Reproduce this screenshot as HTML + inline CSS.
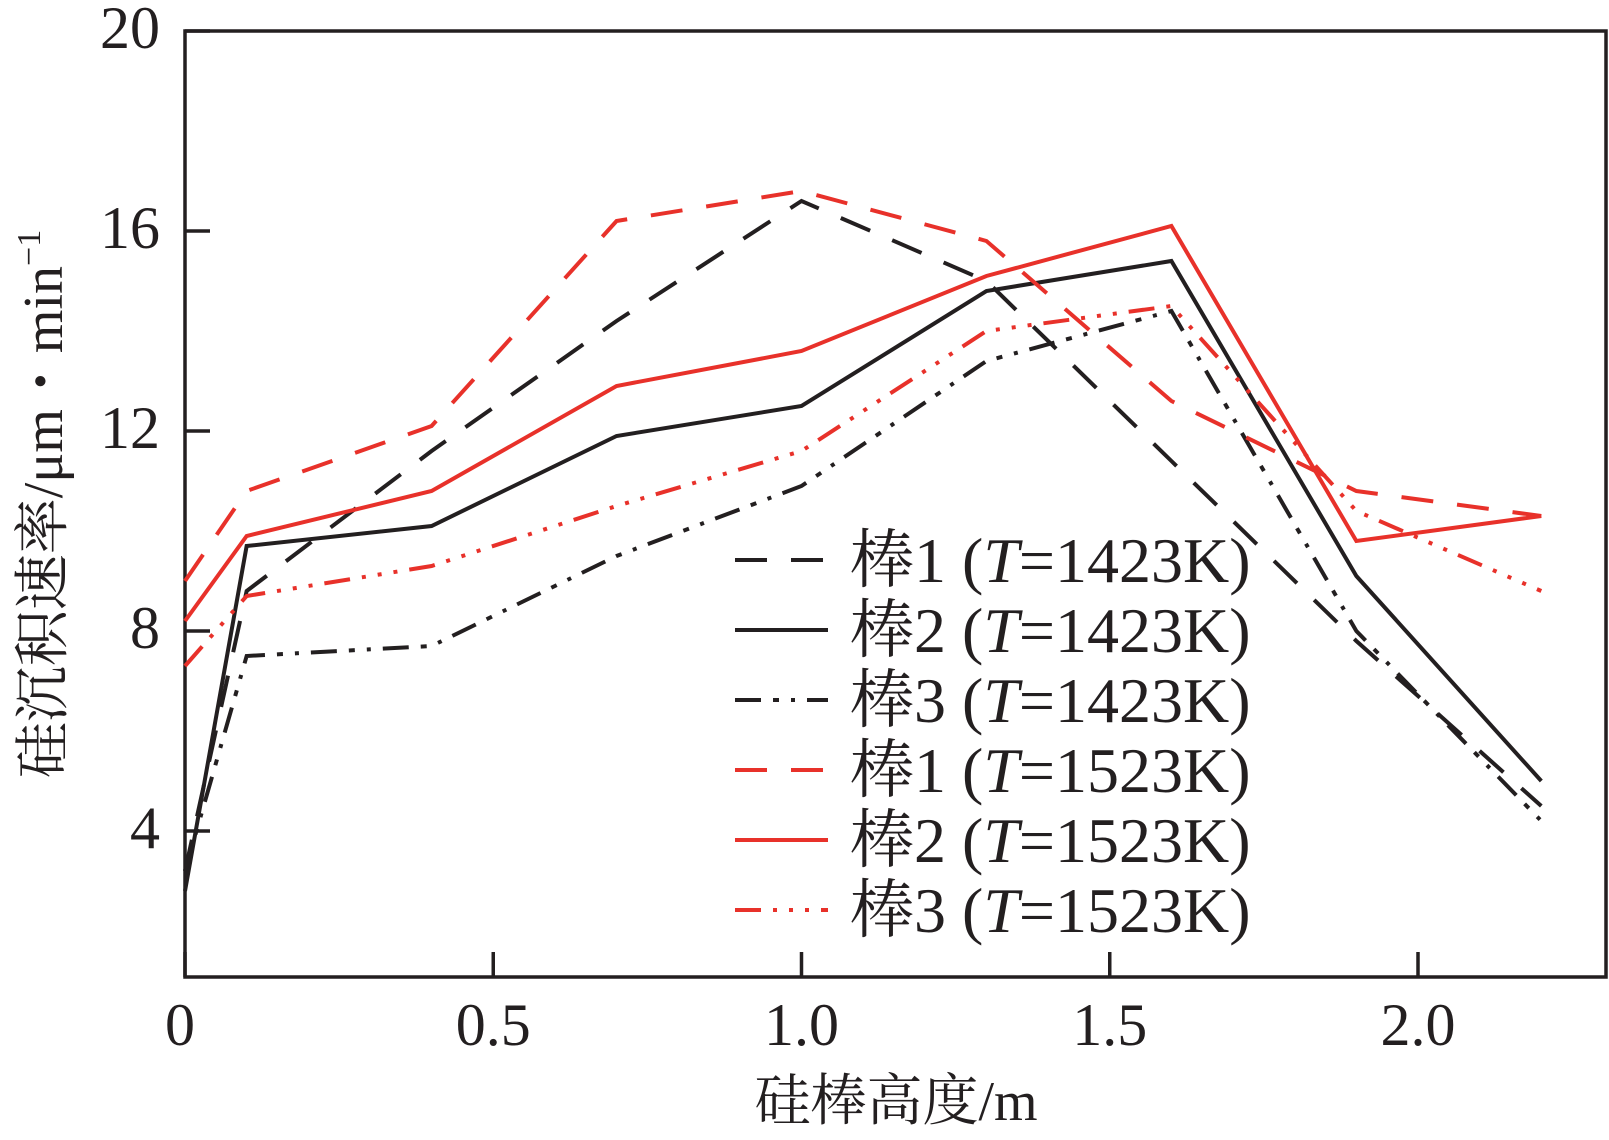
<!DOCTYPE html>
<html><head><meta charset="utf-8"><style>
body{margin:0;background:#fff}
svg text{font-family:"Liberation Serif","Noto Serif CJK SC",serif;fill:#231f20}
</style></head><body>
<svg id="chart" width="1609" height="1135" xmlns="http://www.w3.org/2000/svg"></svg>
<script>
const xValues=[0,0.1,0.4,0.7,1.0,1.3,1.6,1.9,2.2];
const rod1_1423=[3.2,8.8,11.6,14.2,16.6,15.0,11.4,7.8,4.5];
const rod2_1423=[2.8,9.7,10.1,11.9,12.5,14.8,15.4,9.1,5.0];
const rod3_1423=[3.2,7.5,7.7,9.5,10.9,13.4,14.4,8.0,4.2];
const rod1_1523=[9.0,10.8,12.1,16.2,16.8,15.8,12.6,10.8,10.3];
const rod2_1523=[8.2,9.9,10.8,12.9,13.6,15.1,16.1,9.8,10.3];
const rod3_1523=[7.3,8.7,9.3,10.5,11.6,14.0,14.5,10.4,8.8];
const xTicks=[0,0.5,1.0,1.5,2.0];
const xTickLabels=["0","0.5","1.0","1.5","2.0"];
const yTicks=[4,8,12,16,20];
const legendLabels=["棒1 (","棒2 (","棒3 (","棒1 (","棒2 (","棒3 ("];
const legendTemps=["1423K)","1423K)","1423K)","1523K)","1523K)","1523K)"];

const svg=document.getElementById('chart');
const NS="http://www.w3.org/2000/svg";
const L=185,R=1606,T=31,B=977;
const xs=v=>L+616.5*v;
const ys=v=>T+(20-v)*50;
function mk(tag,attrs,parent){const e=document.createElementNS(NS,tag);for(const k in attrs)e.setAttribute(k,attrs[k]);(parent||svg).appendChild(e);return e;}

const frame=mk('rect',{x:L,y:T,width:R-L,height:B-T,fill:'none',stroke:'#231f20','stroke-width':3.5});



xTicks.forEach((t,i)=>{
  const tk=mk('line',{x1:xs(t),x2:xs(t),y1:B,y2:B-25,stroke:'#231f20','stroke-width':3.5});
  
  
  const lb=mk('text',{x:xs(t)-(t===0?5:0),y:1045,'font-size':60,'text-anchor':'middle'});
  lb.textContent=xTickLabels[i];
  
  
});
yTicks.forEach(t=>{
  const tk=mk('line',{x1:L,x2:L+25,y1:ys(t),y2:ys(t),stroke:'#231f20','stroke-width':3.5});
  
  
  const lb=mk('text',{x:160,y:ys(t)+17,'font-size':60,'text-anchor':'end'});
  lb.textContent=String(t);
  
  
});
const xt=mk('text',{x:896,y:1120,'font-size':56,'text-anchor':'middle'});
xt.textContent='硅棒高度/m';


const yt=mk('text',{x:0,y:0,'font-size':56,'text-anchor':'middle',transform:'translate(62,504) rotate(-90)'});
yt.innerHTML='硅沉积速率/μm・min<tspan dy="-22" font-size="34">−1</tspan>';



const seriesList=[
 {d:rod1_1423,c:'#231f20',dash:'32,24',n:'rod1-1423k'},
 {d:rod2_1423,c:'#231f20',dash:'',n:'rod2-1423k'},
 {d:rod3_1423,c:'#231f20',dash:'26,12,6,12,4,12',n:'rod3-1423k'},
 {d:rod1_1523,c:'#e8312a',dash:'32,24',n:'rod1-1523k'},
 {d:rod2_1523,c:'#e8312a',dash:'',n:'rod2-1523k'},
 {d:rod3_1523,c:'#e8312a',dash:'26,12,4,12,4,12,4,12',n:'rod3-1523k'}
];
seriesList.forEach((s,i)=>{
  const pts=s.d.map((v,j)=>xs(xValues[j])+','+ys(v)).join(' ');
  const pl=mk('polyline',{points:pts,fill:'none',stroke:s.c,'stroke-width':4,'stroke-dasharray':s.dash});
  
  
  const ly=560+i*70;
  const ll=mk('line',{x1:735,x2:828,y1:ly,y2:ly,stroke:s.c,'stroke-width':4,'stroke-dasharray':s.dash});
  
  
  const tx=mk('text',{x:850,y:ly+22,'font-size':64});
  tx.innerHTML=legendLabels[i]+'<tspan font-style="italic">T</tspan>='+legendTemps[i];
  
  
});
</script>
</body></html>
